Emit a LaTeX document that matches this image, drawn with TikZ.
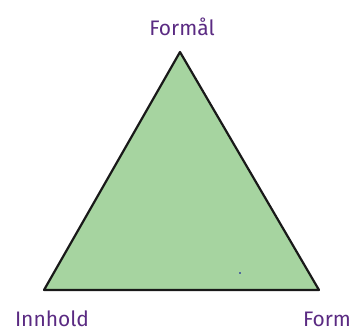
\documentclass[tikz,border=0pt]{standalone}
\usepackage{fontspec}
\setmainfont{Fira Sans}
\definecolor{trifill}{HTML}{A6D4A0}
\definecolor{labelpurple}{HTML}{5A2A82}
\tikzset{
  corner/.style={font=\fontsize{21}{24}\selectfont, text=labelpurple, inner sep=0pt, anchor=base},
  tri/.style={fill=trifill, draw=black!90, line width=2.2pt, line join=round}
}
\begin{document}
\begin{tikzpicture}[x=1pt,y=-1pt]
\useasboundingbox (0,0) rectangle (356,333);
\coordinate (top) at (180,52);
\coordinate (bl) at (44,290);
\coordinate (br) at (319,290);
\draw[tri] (top) -- (bl) -- (br) -- cycle;
\fill[blue!60!black] (240,273) circle (0.9);
\node[corner] (formal) at (182,35) {Formål};
\node[corner] (innhold) at (52,326) {Innhold};
\node[corner] (form) at (327,326) {Form};
\end{tikzpicture}
\end{document}
